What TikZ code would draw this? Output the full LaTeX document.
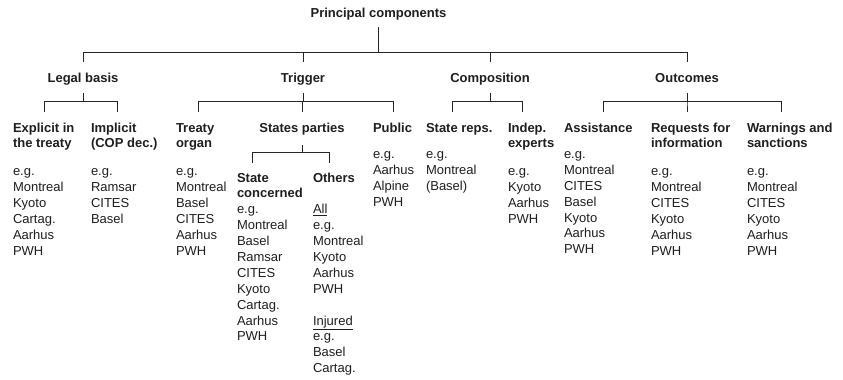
\documentclass[tikz,border=0pt]{standalone}
\usepackage{fontspec}
\setmainfont{Liberation Sans}
% fixed height for the first line of a text block
\newcommand\firstln{\rule{0pt}{11pt}}
\begin{document}
\begin{tikzpicture}[x=1pt,y=-1pt,
  every node/.style={inner sep=0pt, outer sep=0pt, text=black!88},
  link/.style={draw=black!85, line width=0.9pt},
  title/.style={font=\bfseries\fontsize{13}{15}\selectfont, anchor=base,
                text height=9.6pt, text depth=2.8pt},
  head/.style={font=\bfseries\fontsize{13}{15}\selectfont, anchor=north west,
               align=left},
  items/.style={font=\fontsize{13}{15.9}\selectfont, anchor=north west,
                align=left}]

% canvas
\fill[white] (0,0) rectangle (843,380);
\path[use as bounding box] (0,0) rectangle (843,380);

% top and second level
\node[title] (root) at (378.5,17.7) {Principal components};
\node[title] (legal)   at (83,82.7)  {Legal basis};
\node[title] (trigger) at (303,82.7) {Trigger};
\node[title] (comp)    at (490,82.7) {Composition};
\node[title] (outc)    at (687,82.7) {Outcomes};

% third level headings
\node[head] (h-explicit) at (13,121.7)  {\firstln Explicit in\\the treaty};
\node[head] (h-implicit) at (91,121.7)  {\firstln Implicit\\(COP dec.)};
\node[head] (h-treaty)   at (176,121.7) {\firstln Treaty\\organ};
\node[title] (states)    at (302,132.5) {States parties};
\node[head] (h-public)   at (373,121.7) {\firstln Public};
\node[head] (h-reps)     at (426,121.7) {\firstln State reps.};
\node[head] (h-indep)    at (508,121.7) {\firstln Indep.\\experts};
\node[head] (h-assist)   at (564,121.7) {\firstln Assistance};
\node[head] (h-requests) at (651,121.7) {\firstln Requests for\\information};
\node[head] (h-warn)     at (747,121.7) {\firstln Warnings and\\sanctions};
\node[head] (h-concerned) at (237,171.3) {\firstln State\\concerned};
\node[head] (h-others)    at (313,171.3) {\firstln Others};

% example lists
\node[items] (l-explicit) at (13,164.5)  {\firstln e.g.\\Montreal\\Kyoto\\Cartag.\\Aarhus\\PWH};
\node[items] (l-implicit) at (91,164.5)  {\firstln e.g.\\Ramsar\\CITES\\Basel};
\node[items] (l-treaty)   at (176,164.5) {\firstln e.g.\\Montreal\\Basel\\CITES\\Aarhus\\PWH};
\node[items] (l-concerned) at (237,202.7) {\firstln e.g.\\Montreal\\Basel\\Ramsar\\CITES\\Kyoto\\Cartag.\\Aarhus\\PWH};
\node[items] (l-others)   at (313,202.7) {\firstln\underline{All}\\e.g.\\Montreal\\Kyoto\\Aarhus\\PWH\\[15.9pt]\underline{Injured}\\e.g.\\Basel\\Cartag.};
\node[items] (l-public)   at (373,147.4) {\firstln e.g.\\Aarhus\\Alpine\\PWH};
\node[items] (l-reps)     at (426,147.4) {\firstln e.g.\\Montreal\\(Basel)};
\node[items] (l-indep)    at (508,164.5) {\firstln e.g.\\Kyoto\\Aarhus\\PWH};
\node[items] (l-assist)   at (564,147.4) {\firstln e.g.\\Montreal\\CITES\\Basel\\Kyoto\\Aarhus\\PWH};
\node[items] (l-requests) at (651,164.5) {\firstln e.g.\\Montreal\\CITES\\Kyoto\\Aarhus\\PWH};
\node[items] (l-warn)     at (747,164.5) {\firstln e.g.\\Montreal\\CITES\\Kyoto\\Aarhus\\PWH};

% lower ends of the bracket ticks
\coordinate (t-explicit)  at (44,112);
\coordinate (t-implicit)  at (117,112);
\coordinate (t-treaty)    at (198,112);
\coordinate (t-states)    at (302,112);
\coordinate (t-public)    at (393,112);
\coordinate (t-reps)      at (452,112);
\coordinate (t-indep)     at (522,112);
\coordinate (t-assist)    at (603,112);
\coordinate (t-requests)  at (687,112);
\coordinate (t-warn)      at (781,112);
\coordinate (t-concerned) at (252,163);
\coordinate (t-others)    at (329,163);

% root bracket
\foreach \c in {legal,trigger,comp,outc}
  \draw[link] ([yshift=-6.5pt]root.south) -- ++(0,25) -| ([yshift=11pt]\c.north);

% second level brackets
\foreach \t in {explicit,implicit}
  \draw[link] ([yshift=-7.5pt]legal.south) -- ++(0,8) -| (t-\t);
\foreach \t in {treaty,states,public}
  \draw[link] ([yshift=-7.5pt]trigger.south) -- ++(0,8) -| (t-\t);
\foreach \t in {reps,indep}
  \draw[link] ([yshift=-7.5pt]comp.south) -- ++(0,8) -| (t-\t);
\foreach \t in {assist,requests,warn}
  \draw[link] ([yshift=-7.5pt]outc.south) -- ++(0,8) -| (t-\t);

% states parties bracket
\foreach \t in {concerned,others}
  \draw[link] ([yshift=-9.7pt]states.south) -- ++(0,7) -| (t-\t);

\end{tikzpicture}
\end{document}
